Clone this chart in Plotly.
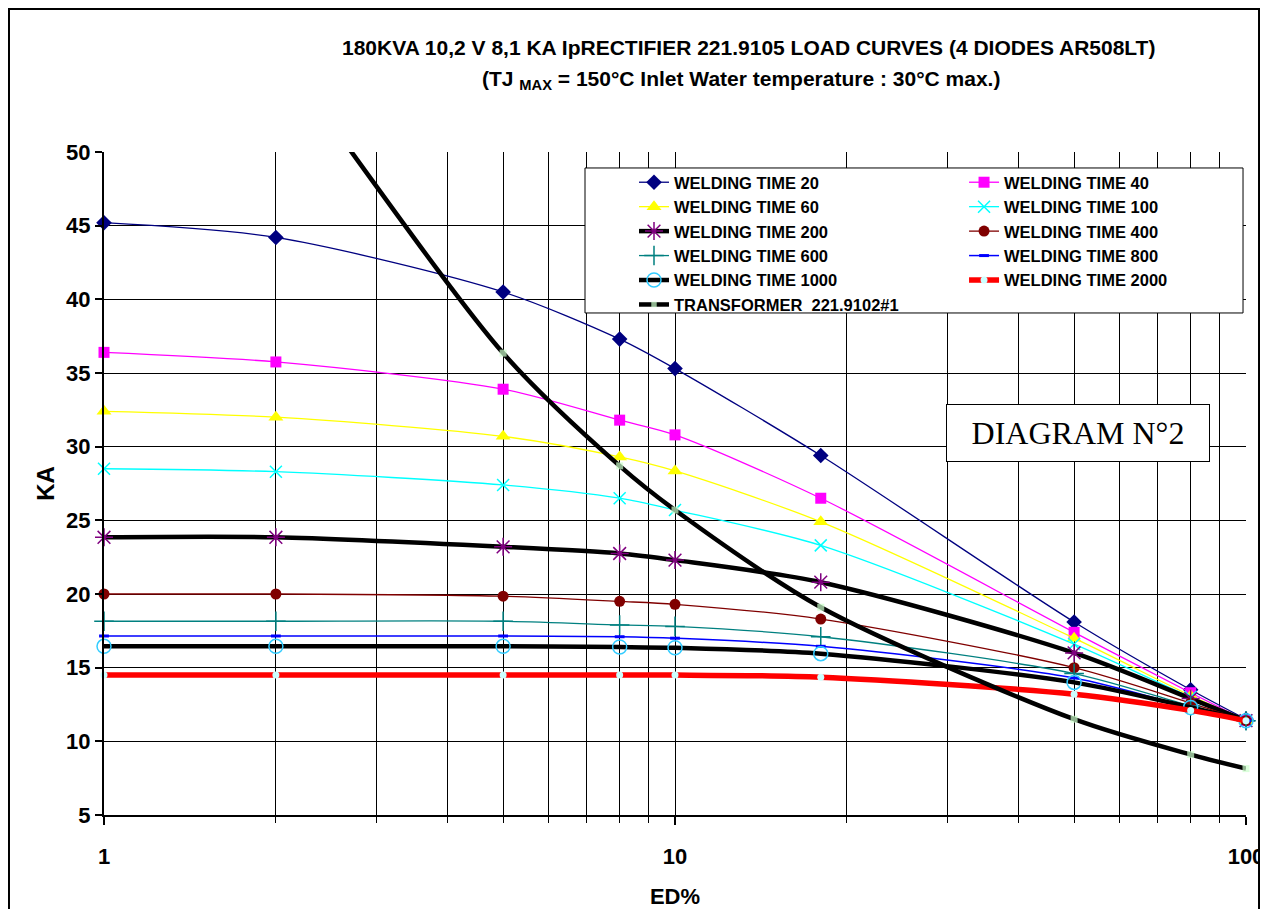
import plotly.graph_objects as go

# ---------------- data ----------------
ed = [1, 2, 5, 8, 10, 18, 50, 80, 100]
wt20 = [45.2, 44.2, 40.5, 37.3, 35.3, 29.4, 18.1, 13.5, 11.5]
wt40 = [36.4, 35.75, 33.9, 31.8, 30.8, 26.5, 17.4, 13.3, 11.4]
wt60 = [32.4, 32.0, 30.7, 29.3, 28.35, 24.9, 17.0, 13.1, 11.4]
wt100 = [28.5, 28.3, 27.4, 26.5, 25.7, 23.3, 16.6, 13.0, 11.4]
wt200 = [23.85, 23.85, 23.2, 22.75, 22.3, 20.8, 16.0, 12.9, 11.4]
wt400 = [20.0, 20.0, 19.85, 19.5, 19.3, 18.3, 15.0, 12.6, 11.4]
wt600 = [18.15, 18.15, 18.15, 17.9, 17.8, 17.1, 14.6, 12.4, 11.4]
wt800 = [17.15, 17.15, 17.15, 17.1, 17.0, 16.45, 14.3, 12.3, 11.4]
wt1000 = [16.45, 16.45, 16.45, 16.4, 16.35, 15.95, 14.0, 12.3, 11.4]
wt2000 = [14.5, 14.5, 14.5, 14.5, 14.5, 14.35, 13.2, 12.1, 11.4]
trafo = [72, 57, 36.35, 28.7, 25.7, 19.1, 11.5, 9.1, 8.15]

x_major = [1, 10, 100]
x_minor = [2, 3, 4, 5, 6, 7, 8, 9, 20, 30, 40, 50, 60, 70, 80, 90]

title1 = "180KVA 10,2 V 8,1 KA IpRECTIFIER 221.9105 LOAD CURVES (4 DIODES AR508LT)"
title2 = "(TJ <sub>MAX</sub> = 150°C Inlet Water temperature : 30°C max.)"

FONT = "Liberation Sans Narrow, Arial Narrow, Liberation Sans, Arial, sans-serif"

fig = go.Figure()


def add(name, y, lcolor, lwidth, symbol, msize, mcolor, mlcolor=None, mlwidth=0,
        legend="legend"):
    fig.add_trace(go.Scatter(
        x=ed, y=y, name=name, mode="lines+markers", legend=legend,
        line=dict(color=lcolor, width=lwidth, shape="spline", smoothing=0.8),
        marker=dict(symbol=symbol, size=msize, color=mcolor,
                    line=dict(color=mlcolor if mlcolor else mcolor, width=mlwidth)),
        cliponaxis=False,
    ))


add("WELDING TIME 20", wt20, "#000080", 1.3, "diamond", 12, "#000080")
add("WELDING TIME 40", wt40, "#FF00FF", 1.3, "square", 11, "#FF00FF", legend="legend2")
add("WELDING TIME 60", wt60, "#FFFF00", 1.3, "triangle-up", 13, "#FFFF00")
add("WELDING TIME 100", wt100, "#00FFFF", 1.3, "x-thin-open", 12, "#00FFFF", "#00FFFF", 1.5,
    legend="legend2")
add("WELDING TIME 200", wt200, "#000000", 4.5, "asterisk-open", 15, "#800080", "#800080", 1.5)
add("WELDING TIME 400", wt400, "#800000", 1.3, "circle", 11, "#800000", legend="legend2")
add("WELDING TIME 600", wt600, "#008080", 1.3, "cross-thin-open", 14, "#008080", "#008080", 1.5)
add("WELDING TIME 800", wt800, "#0000FF", 1.5, "line-ew-open", 7, "#0000FF", "#0000FF", 3,
    legend="legend2")
add("WELDING TIME 1000", wt1000, "#000000", 4.5, "circle-open", 14, "#33CCFF", "#33CCFF", 1.5)
add("WELDING TIME 2000", wt2000, "#FF0000", 5.5, "circle", 7, "#CCFFFF", legend="legend2")

fig.add_trace(go.Scatter(
    x=ed, y=trafo, name="TRANSFORMER  221.9102#1", mode="lines+markers", legend="legend",
    line=dict(color="#000000", width=4.5, shape="spline", smoothing=0.8),
    marker=dict(symbol="square", size=[0, 0, 7, 7, 7, 7, 7, 7, 7], color="#CCFFCC",
                line=dict(width=0)),
    cliponaxis=False,
))

legend_font = dict(family=FONT, size=16.5, color="black", weight="bold")
legend_common = dict(orientation="v", xanchor="left", yanchor="top", y=0.9804,
                     bgcolor="rgba(0,0,0,0)", borderwidth=0, tracegroupgap=0,
                     font=legend_font, traceorder="normal")

fig.update_layout(
    width=1252, height=901,
    margin=dict(l=96, r=14, t=144, b=94, autoexpand=False),
    paper_bgcolor="white", plot_bgcolor="white",
    showlegend=True,
    legend=dict(x=0.4641, **legend_common),
    legend2=dict(x=0.7531, **legend_common),
    xaxis=dict(type="log", range=[0, 2], tickvals=x_major, ticktext=["1", "10", "100"],
               automargin=False, ticklabeloverflow="allow",
               showgrid=True, gridcolor="black", gridwidth=1,
               minor=dict(tickvals=x_minor, showgrid=True, gridcolor="black", gridwidth=1,
                          ticks="outside", ticklen=6, tickcolor="black", tickwidth=1),
               ticks="outside", ticklen=8, tickcolor="black", tickwidth=1.5,
               showline=True, linecolor="black", linewidth=2, mirror=False,
               ticklabelstandoff=13,
               tickfont=dict(family=FONT, size=22, color="black", weight="bold"),
               title=dict(text="ED%", standoff=24,
                          font=dict(family=FONT, size=22, color="black", weight="bold"))),
    yaxis=dict(range=[5, 50], tick0=5, dtick=5, automargin=False,
               showgrid=True, gridcolor="black", gridwidth=1, zeroline=False,
               ticks="outside", ticklen=7, tickcolor="black", tickwidth=1.5,
               showline=True, linecolor="black", linewidth=2,
               tickfont=dict(family=FONT, size=22, color="black", weight="bold"),
               title=dict(text="KA", standoff=5,
                          font=dict(family=FONT, size=24, color="black", weight="bold"))),
    shapes=[
        dict(type="rect", xref="paper", yref="paper",
             x0=-0.0832, x1=1.0114, y0=-0.3, y1=1.2157,
             line=dict(color="black", width=2), layer="below"),
        dict(type="rect", xref="paper", yref="paper",
             x0=0.4212, x1=0.9974, y0=0.7572, y1=0.9759,
             fillcolor="white", line=dict(color="black", width=1), layer="above"),
    ],
    annotations=[
        dict(text=title1, xref="paper", yref="paper", x=0.564, y=1.157,
             xanchor="center", yanchor="middle", showarrow=False,
             font=dict(family=FONT, size=21, color="black", weight="bold")),
        dict(text=title2, xref="paper", yref="paper", x=0.558, y=1.1086,
             xanchor="center", yanchor="middle", showarrow=False,
             font=dict(family=FONT, size=21, color="black", weight="bold")),
        dict(text="DIAGRAM N°2", xref="paper", yref="paper", x=0.853, y=0.576,
             xanchor="center", yanchor="middle", showarrow=False,
             width=260, height=54, bgcolor="white", bordercolor="black", borderwidth=1,
             font=dict(family="Liberation Serif, Times New Roman, serif", size=32, color="black")),
    ],
)

fig.write_html("out.html")
